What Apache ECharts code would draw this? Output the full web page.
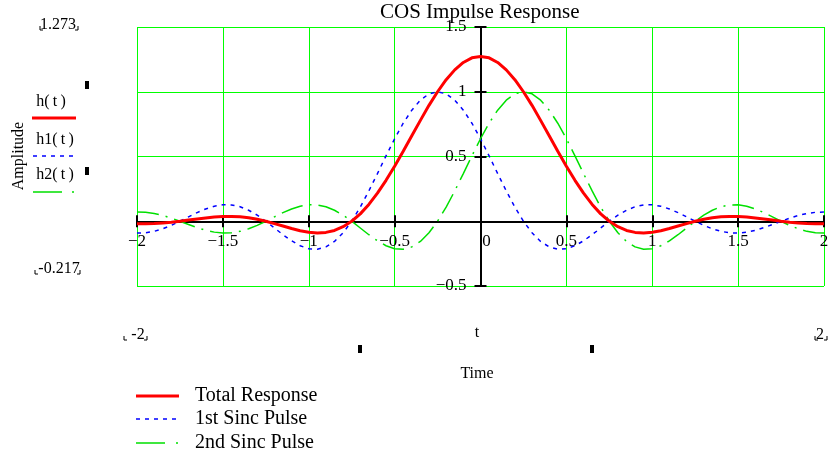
<!DOCTYPE html>
<html>
<head>
<meta charset="utf-8">
<script src="https://cdn.jsdelivr.net/npm/echarts@6/dist/echarts.min.js"></script>
<style>
  html, body { margin: 0; padding: 0; background: #fff; }
  #chart { width: 832px; height: 460px; }
</style>
</head>
<body>
<div id="chart"></div>
<script>
// sample times (s)
var tVals = [-2, -1.95, -1.9, -1.85, -1.8, -1.75, -1.7, -1.65, -1.6, -1.55,
  -1.5, -1.45, -1.4, -1.35, -1.3, -1.25, -1.2, -1.15, -1.1, -1.05,
  -1, -0.95, -0.9, -0.85, -0.8, -0.75, -0.7, -0.65, -0.6, -0.55,
  -0.5, -0.45, -0.4, -0.35, -0.3, -0.25, -0.2, -0.15, -0.1, -0.05,
  0, 0.05, 0.1, 0.15, 0.2, 0.25, 0.3, 0.35, 0.4, 0.45,
  0.5, 0.55, 0.6, 0.65, 0.7, 0.75, 0.8, 0.85, 0.9, 0.95,
  1, 1.05, 1.1, 1.15, 1.2, 1.25, 1.3, 1.35, 1.4, 1.45,
  1.5, 1.55, 1.6, 1.65, 1.7, 1.75, 1.8, 1.85, 1.9, 1.95, 2];

// h(t) total response
var hVals = [-0.020, -0.020, -0.018, -0.013, -0.008, 0, 0.009, 0.018, 0.025, 0.032,
  0.036, 0.037, 0.034, 0.027, 0.015, 0, -0.018, -0.037, -0.056, -0.073,
  -0.085, -0.090, -0.086, -0.071, -0.042, 0, 0.057, 0.130, 0.217, 0.316,
  0.425, 0.541, 0.660, 0.779, 0.895, 1.000, 1.093, 1.169, 1.226, 1.262,
  1.273, 1.262, 1.226, 1.169, 1.093, 1.000, 0.895, 0.779, 0.660, 0.541,
  0.425, 0.316, 0.217, 0.130, 0.057, 0, -0.042, -0.071, -0.086, -0.090,
  -0.085, -0.073, -0.056, -0.037, -0.018, 0, 0.015, 0.027, 0.034, 0.037,
  0.036, 0.032, 0.025, 0.018, 0.009, 0, -0.008, -0.013, -0.018, -0.020, -0.020];

// h1(t) first sinc pulse
var h1Vals = [-0.091, -0.089, -0.078, -0.058, -0.032, 0, 0.034, 0.067, 0.095, 0.116,
  0.127, 0.126, 0.112, 0.085, 0.047, 0, -0.052, -0.104, -0.151, -0.189,
  -0.212, -0.216, -0.198, -0.156, -0.089, 0, 0.109, 0.234, 0.368, 0.505,
  0.637, 0.757, 0.858, 0.935, 0.984, 1, 0.984, 0.935, 0.858, 0.757,
  0.637, 0.505, 0.368, 0.234, 0.109, 0, -0.089, -0.156, -0.198, -0.216,
  -0.212, -0.189, -0.151, -0.104, -0.052, 0, 0.047, 0.085, 0.112, 0.126,
  0.127, 0.116, 0.095, 0.067, 0.034, 0, -0.032, -0.058, -0.078, -0.089,
  -0.091, -0.084, -0.070, -0.049, -0.025, 0, 0.024, 0.045, 0.060, 0.069, 0.071];

// h2(t) second sinc pulse
var h2Vals = [0.071, 0.069, 0.060, 0.045, 0.024, 0, -0.025, -0.049, -0.070, -0.084,
  -0.091, -0.089, -0.078, -0.058, -0.032, 0, 0.034, 0.067, 0.095, 0.116,
  0.127, 0.126, 0.112, 0.085, 0.047, 0, -0.052, -0.104, -0.151, -0.189,
  -0.212, -0.216, -0.198, -0.156, -0.089, 0, 0.109, 0.234, 0.368, 0.505,
  0.637, 0.757, 0.858, 0.935, 0.984, 1, 0.984, 0.935, 0.858, 0.757,
  0.637, 0.505, 0.368, 0.234, 0.109, 0, -0.089, -0.156, -0.198, -0.216,
  -0.212, -0.189, -0.151, -0.104, -0.052, 0, 0.047, 0.085, 0.112, 0.126,
  0.127, 0.116, 0.095, 0.067, 0.034, 0, -0.032, -0.058, -0.078, -0.089, -0.091];

var seriesNames = ['Total Response', '1st Sinc Pulse', '2nd Sinc Pulse'];

var serif = '"Liberation Serif", "Times New Roman", serif';
var gridGreen = '#00ff00';
var red = '#ff0000', blue = '#0000ff', green = '#00e000';
var blueDash = [4, 5], greenDash = [22, 7, 2, 7];

function pairs(ys) {
  return ys.map(function (y, i) { return [tVals[i], y]; });
}

function minus(v) {
  return String(v).replace('-', '\u2212');
}

// little Mathcad corner marks under a range label
function marks(x1, x2, y) {
  return [
    { type: 'polyline', shape: { points: [[x1, y - 4], [x1, y], [x1 + 3, y]] }, style: { stroke: '#000', lineWidth: 1, fill: null } },
    { type: 'polyline', shape: { points: [[x2 - 3, y], [x2, y], [x2, y - 4]] }, style: { stroke: '#000', lineWidth: 1, fill: null } }
  ];
}

function txt(x, y, s, size, extra) {
  var o = {
    type: 'text', x: x, y: y,
    style: { text: s, fill: '#000', font: size + 'px ' + serif, textAlign: 'center', textVerticalAlign: 'middle' }
  };
  if (extra) { for (var k in extra) o[k] = extra[k]; }
  return o;
}

function sample(x1, x2, y, color, width, dash) {
  return { type: 'line', shape: { x1: x1, y1: y, x2: x2, y2: y }, style: { stroke: color, lineWidth: width, lineDash: dash || null } };
}

function legendText(x, y, s) {
  return {
    type: 'text', x: x, y: y,
    style: { text: s, fill: '#000', font: '20px ' + serif, textAlign: 'left', textVerticalAlign: 'middle' }
  };
}

var chart = echarts.init(document.getElementById('chart'));

var axisCommon = {
  type: 'value',
  axisLine: { onZero: false, lineStyle: { color: '#000', width: 2 } },
  axisTick: { length: 6, lineStyle: { color: '#000', width: 2 } }
};
// grid: left 137, top 27, width 687, height 259 -> zero lines sit inside
var xOff = -64.75, yOff = -343.5;

var graphics = [
  txt(58, 25, '1.273', 16),
  txt(59, 269, '-0.217', 16),
  txt(51, 102, 'h(\u2009t\u2009)', 16),
  txt(55, 140, 'h1(\u2009t\u2009)', 16),
  txt(55, 175, 'h2(\u2009t\u2009)', 16),
  txt(19, 156, 'Amplitude', 16, { rotation: Math.PI / 2 }),
  txt(138, 335, '-2', 16),
  txt(820, 335, '2', 16),
  txt(477, 333, 't', 16),
  txt(477, 374, 'Time', 16),
  sample(32, 76, 118, red, 3),
  sample(33, 75, 156, blue, 1.5, blueDash),
  sample(33, 75, 192, green, 1.5, [29, 10, 2, 10]),
  { type: 'rect', shape: { x: 85, y: 81, width: 4, height: 8 }, style: { fill: '#000' } },
  { type: 'rect', shape: { x: 85, y: 167, width: 4, height: 8 }, style: { fill: '#000' } },
  { type: 'rect', shape: { x: 358, y: 345, width: 4, height: 8 }, style: { fill: '#000' } },
  { type: 'rect', shape: { x: 590, y: 345, width: 4, height: 8 }, style: { fill: '#000' } },
  // bottom legend
  sample(136, 179, 396, red, 3),
  legendText(195, 396, seriesNames[0]),
  sample(136, 179, 419, blue, 1.5, blueDash),
  legendText(195, 419, seriesNames[1]),
  sample(136, 179, 443, green, 1.5, [29, 11, 2, 11]),
  legendText(195, 443, seriesNames[2])
].concat(marks(40, 78, 30), marks(35, 80, 274), marks(124, 147, 340), marks(815, 827, 340));

var option = {
  animation: false,
  backgroundColor: '#fff',
  title: {
    text: 'COS Impulse Response',
    left: 380, top: 2, padding: 0,
    textStyle: { fontFamily: serif, fontSize: 21, fontWeight: 'normal', color: '#000' }
  },
  grid: { left: 137, right: 8, top: 27, bottom: 174 },
  xAxis: [
    Object.assign({}, axisCommon, {
      min: -2, max: 2, interval: 0.5, position: 'bottom', offset: xOff,
      axisLabel: {
        color: '#000', fontFamily: serif, fontSize: 17, margin: 12,
        formatter: function (v) { return v === 0 ? '{z|0}' : minus(v); },
        rich: { z: { fontFamily: serif, fontSize: 17, color: '#000', padding: [0, 0, 0, 12] } }
      },
      splitLine: { show: true, lineStyle: { color: gridGreen, width: 1 } }
    }),
    Object.assign({}, axisCommon, {
      min: -2, max: 2, interval: 0.5, position: 'bottom', offset: xOff,
      axisTick: { inside: true, length: 6, lineStyle: { color: '#000', width: 2 } },
      axisLabel: { show: false }, splitLine: { show: false }
    })
  ],
  yAxis: [
    Object.assign({}, axisCommon, {
      min: -0.5, max: 1.5, interval: 0.5, position: 'left', offset: yOff,
      axisLabel: {
        color: '#000', fontFamily: serif, fontSize: 17, margin: 14,
        formatter: function (v) { return v === 0 ? '' : minus(v); }
      },
      splitLine: { show: true, lineStyle: { color: gridGreen, width: 1 } }
    }),
    Object.assign({}, axisCommon, {
      min: -0.5, max: 1.5, interval: 0.5, position: 'left', offset: yOff,
      axisTick: { inside: true, length: 6, lineStyle: { color: '#000', width: 2 } },
      axisLabel: { show: false }, splitLine: { show: false }
    })
  ],
  graphic: graphics,
  series: [
    {
      name: seriesNames[1], type: 'line', data: pairs(h1Vals),
      symbol: 'none', z: 3,
      lineStyle: { color: blue, width: 1.5, type: blueDash }
    },
    {
      name: seriesNames[2], type: 'line', data: pairs(h2Vals),
      symbol: 'none', z: 3,
      lineStyle: { color: green, width: 1.5, type: greenDash }
    },
    {
      name: seriesNames[0], type: 'line', data: pairs(hVals),
      symbol: 'none', z: 4,
      lineStyle: { color: red, width: 3 }
    }
  ]
};

chart.setOption(option);
</script>
</body>
</html>
